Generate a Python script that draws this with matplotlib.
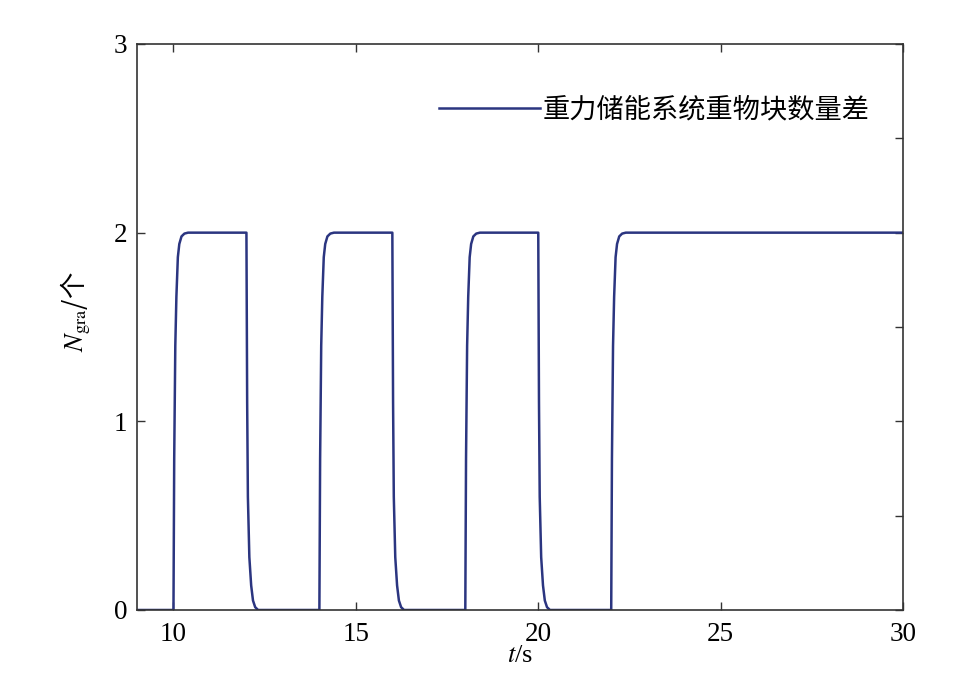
import numpy as np
import matplotlib.pyplot as plt
from matplotlib.ticker import MultipleLocator

plt.rcParams['font.family'] = ['Liberation Serif', 'Noto Sans CJK SC']
plt.rcParams['mathtext.fontset'] = 'stix'

# switching instants of the weight-block count difference (s)
on_times = [10, 14, 18, 22]
off_times = [12, 16, 20]
t_start, t_end = 9, 30
level = 2

# shape of a rising / falling edge (time after switching, value)
rise_dt = [0.0, 0.02, 0.05, 0.08, 0.12, 0.16, 0.22, 0.30, 0.40]
rise_val = [0.0, 0.80, 1.40, 1.66, 1.87, 1.94, 1.98, 1.995, 2.0]
fall_dt = [0.0, 0.02, 0.04, 0.08, 0.13, 0.18, 0.24, 0.32]
fall_val = [2.0, 1.10, 0.60, 0.28, 0.13, 0.05, 0.015, 0.0]

# assemble the series from the switching instants
t = [t_start]
y = [0]
for i, ton in enumerate(on_times):
    t += [ton + d for d in rise_dt]
    y += rise_val
    if i < len(off_times):
        t += [off_times[i] + d for d in fall_dt]
        y += fall_val
t.append(t_end)
y.append(level)

fig = plt.figure(figsize=(9.56, 6.84), dpi=100)
ax = fig.add_axes([0.1433, 0.1082, 0.8013, 0.8275])

ax.plot(t, y, color='#2b3580', lw=1.8, label='重力储能系统重物块数量差')

ax.set_xlim(t_start, t_end)
ax.set_ylim(0, 3)
ax.set_xticks([10, 15, 20, 25, 30])
ax.set_yticks([0, 1, 2, 3])
ax.yaxis.set_minor_locator(MultipleLocator(0.5))

ax.tick_params(which='both', direction='in', labelsize=19.5, length=6, width=1.0,
               color='#333333', top=True, bottom=True)
ax.tick_params(axis='x', pad=8.5)
ax.tick_params(axis='y', pad=7)
ax.tick_params(axis='y', which='major', left=True, right=True)
ax.tick_params(axis='y', which='minor', left=False, right=True)

for s in ax.spines.values():
    s.set_color('#333333')
    s.set_linewidth(1.2)

ax.set_xlabel(r'$t$/s', fontsize=19, labelpad=-1.5)
ax.set_ylabel(r'$N_{\mathrm{gra}}$/个', fontsize=19,
              fontfamily=['Noto Sans CJK SC'])
ax.yaxis.set_label_coords(-0.057, 0.527)

ax.legend(loc='upper right', bbox_to_anchor=(0.956, 0.908), frameon=False,
          prop={'family': ['Noto Sans CJK SC'], 'size': 19.6},
          handlelength=3.7, handletextpad=0.1, borderpad=0, borderaxespad=0)

fig.savefig('out.png', dpi=100)
